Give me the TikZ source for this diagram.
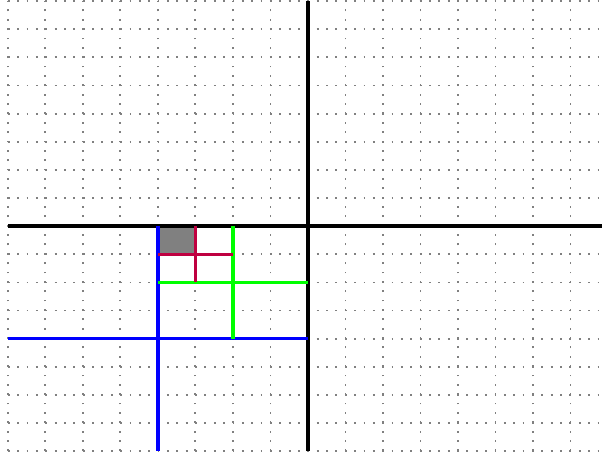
\documentclass[tikz,border=0pt]{standalone}
\usepackage{xcolor}
\usepackage{tikz}
\definecolor{QBlue}{RGB}{0,0,255}
\definecolor{QGreen}{RGB}{0,255,0}
\definecolor{QRed}{RGB}{191,0,64}

\begin{document}
\begin{tikzpicture}[x=1cm, y=0.75cm,
            gridline/.style={gray, line width=1.4pt, dash pattern=on 1.4pt off 5.7pt},
            axis/.style={black, line width=3pt},
            quad/.style={line width=2.6pt}
          ]
          \useasboundingbox (-8.21,-8.2) rectangle (7.84,8.04);

          % Grid
          \draw[gridline] (-8,-8) grid[step=1] (8,8);

          % Axes
          \coordinate (o) at (0,0);
          \draw[axis] (-8,0) -- (8,0);
          \draw[axis] (0,-8) -- (0,8);

          % Level 1
          \draw[quad, QBlue] (-4,0) -- (-4,-8);
          \draw[quad, QBlue] (-8,-4) -- (0,-4);

          % Level 2
          \draw[quad, QGreen] (-2,0) -- (-2,-4);
          \draw[quad, QGreen] (-4,-2) -- (0,-2);

          % Level 3
          \draw[quad, QRed] (-3,0) -- (-3,-2);
          \draw[quad, QRed] (-4,-1) -- (-2,-1);

          % Marked cell
          \fill[gray] (-3.95,-0.07) rectangle (-3.05,-0.95);
        \end{tikzpicture}
\end{document}
